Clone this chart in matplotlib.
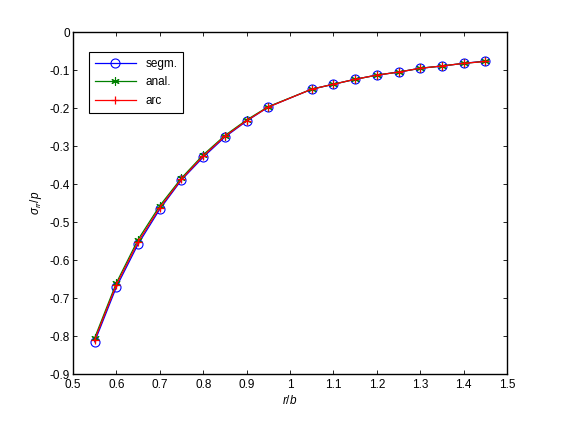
import matplotlib
matplotlib.use("Agg")
import matplotlib.pyplot as plt

plt.rcParams['font.family'] = ['Liberation Sans', 'DejaVu Sans']
plt.rcParams['mathtext.fontset'] = 'custom'
plt.rcParams['mathtext.it'] = 'Liberation Sans:italic'
plt.rcParams['mathtext.rm'] = 'Liberation Sans'

# r/b positions
r_b = [0.55, 0.60, 0.65, 0.70, 0.75, 0.80, 0.85, 0.90, 0.95,
       1.05, 1.10, 1.15, 1.20, 1.25, 1.30, 1.35, 1.40, 1.45]

segm = [-0.815, -0.671, -0.558, -0.466, -0.389, -0.329, -0.276, -0.234, -0.197,
        -0.150, -0.137, -0.124, -0.113, -0.105, -0.095, -0.089, -0.082, -0.076]
anal = [-0.805, -0.660, -0.546, -0.457, -0.384, -0.323, -0.272, -0.231, -0.196,
        -0.150, -0.137, -0.124, -0.113, -0.105, -0.095, -0.089, -0.082, -0.077]
arc = [-0.810, -0.665, -0.552, -0.462, -0.387, -0.326, -0.274, -0.233, -0.197,
       -0.150, -0.137, -0.124, -0.113, -0.105, -0.095, -0.089, -0.082, -0.077]

xticks = [0.5, 0.6, 0.7, 0.8, 0.9, 1.0, 1.1, 1.2, 1.3, 1.4, 1.5]
xticklabels = ["0.5", "0.6", "0.7", "0.8", "0.9", "1", "1.1", "1.2", "1.3", "1.4", "1.5"]
yticks = [-0.9, -0.8, -0.7, -0.6, -0.5, -0.4, -0.3, -0.2, -0.1, 0]
yticklabels = ["-0.9", "-0.8", "-0.7", "-0.6", "-0.5", "-0.4", "-0.3", "-0.2", "-0.1", "0"]

fig = plt.figure(figsize=(5.61, 4.29), dpi=100)
ax = fig.add_axes([0.130, 0.128, 0.774, 0.797])

ax.plot(r_b, segm, color='#0000ff', marker='o', markersize=6.5, markerfacecolor='none',
        markeredgewidth=0.8, linewidth=0.9, label='segm.')
ax.plot(r_b, anal, color='#008000', marker=(6, 2, 0), markersize=6, markeredgewidth=0.8,
        linewidth=0.9, label='anal.')
ax.plot(r_b, arc, color='#ff0000', marker='+', markersize=6, markeredgewidth=0.9,
        linewidth=0.9, label='arc')

ax.set_xlim(0.5, 1.5)
ax.set_ylim(-0.9, 0)
ax.set_xticks(xticks, xticklabels)
ax.set_yticks(yticks, yticklabels)
ax.tick_params(direction='in', length=3, width=0.6, top=True, right=True,
               labelsize=8.5)
ax.tick_params(axis='x', pad=3.5)
ax.tick_params(axis='y', pad=2)
for s in ax.spines.values():
    s.set_linewidth(1.0)

ax.set_xlabel('$r/b$', fontsize=8.5, labelpad=2)
ax.set_ylabel(r'$\sigma_{rr}/p$', fontsize=8.5, labelpad=4)

leg = ax.legend(loc='upper left', bbox_to_anchor=(0.023, 0.96), fontsize=8.5,
                fancybox=False, framealpha=1, edgecolor='black',
                handlelength=3.5, borderpad=0.5, labelspacing=0.55)
leg.get_frame().set_linewidth(0.8)

fig.savefig('out.png', dpi=100)
